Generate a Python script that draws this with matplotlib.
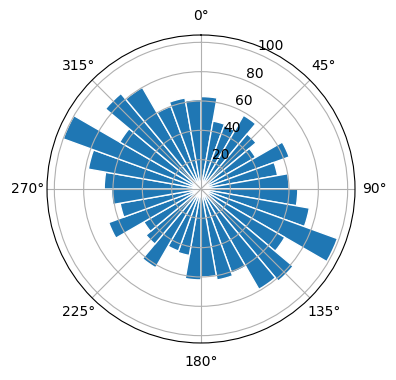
import matplotlib
matplotlib.use('Agg')
import matplotlib.pyplot as plt
import numpy as np

# direction bins (degrees, bin start) and counts
bin_start_deg = np.arange(0, 360, 10)
counts = [63, 47, 46, 58, 49, 43, 64, 53, 60, 66, 75, 99,
          66, 82, 79, 61, 63, 60, 62, 46, 45, 62, 49, 45,
          67, 56, 61, 66, 78, 100, 64, 85, 80, 60, 63, 61]

theta = np.deg2rad(bin_start_deg + 5)
width = np.deg2rad(10)

fig = plt.figure(figsize=(3.96, 3.8), dpi=100)
ax = fig.add_axes([0.1187, 0.0974, 0.7778, 0.8105], projection='polar')
ax.set_theta_zero_location('N')
ax.set_theta_direction(-1)

ax.bar(theta, counts, width=width, color='#1f77b4', edgecolor='white', linewidth=1)

ax.set_rticks([20, 40, 60, 80, 100])

plt.savefig('out.png')
